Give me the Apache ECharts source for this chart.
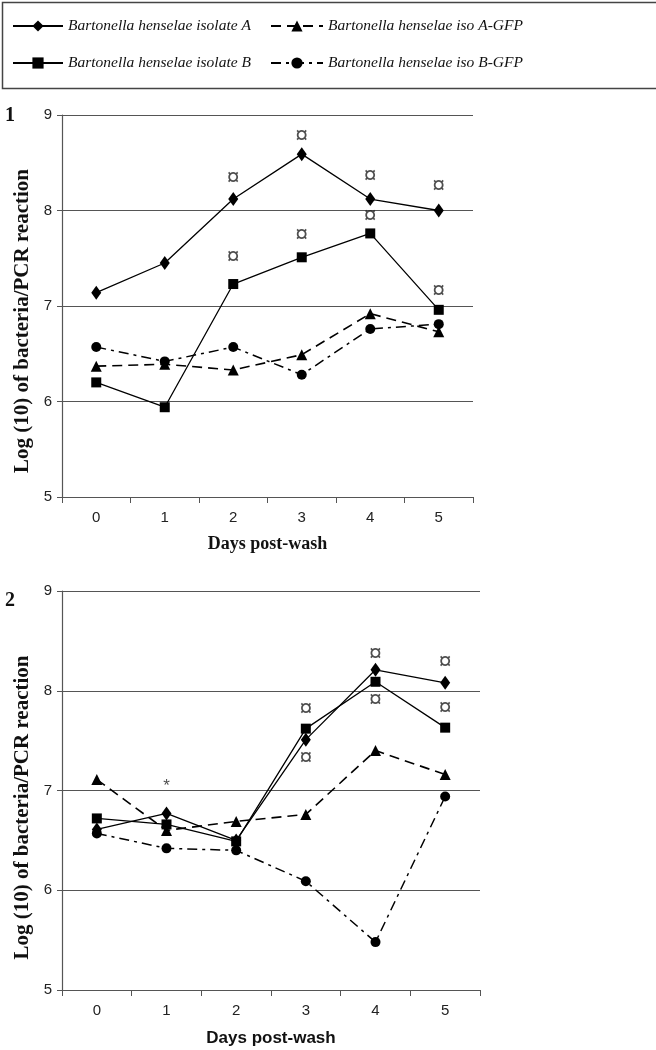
<!DOCTYPE html>
<html><head><meta charset="utf-8">
<script src="https://cdn.jsdelivr.net/npm/echarts@6/dist/echarts.min.js"></script>
<style>html,body{margin:0;padding:0;background:#fff}#c{width:656px;height:1050px}</style>
</head><body><div id="c"></div>
<script>
const days = ['0','1','2','3','4','5'];
const yTicks = [5, 6, 7, 8, 9];
const names = ['Bartonella henselae isolate A','Bartonella henselae isolate B','Bartonella henselae iso A-GFP','Bartonella henselae iso B-GFP'];

// Panel 1
const p1A    = [7.14, 7.45, 8.12, 8.59, 8.12, 8.00];
const p1B    = [6.20, 5.94, 7.23, 7.51, 7.76, 6.96];
const p1AGFP = [6.37, 6.39, 6.33, 6.49, 6.92, 6.73];
const p1BGFP = [6.57, 6.42, 6.57, 6.28, 6.76, 6.81];
const p1MarkA = [null, null, 8.33, 8.77, 8.35, 8.25];
const p1MarkB = [null, null, 7.51, 7.74, 7.94, 7.15];

// Panel 2
const p2A    = [6.61, 6.77, 6.50, 7.51, 8.21, 8.08];
const p2B    = [6.72, 6.66, 6.49, 7.62, 8.09, 7.63];
const p2AGFP = [7.11, 6.60, 6.69, 6.76, 7.40, 7.16];
const p2BGFP = [6.57, 6.42, 6.40, 6.09, 5.48, 6.94];
const p2MarkUp  = [null, null, null, 7.81, 8.36, 8.28];
const p2MarkLow = [null, null, null, 7.32, 7.90, 7.82];
const p2Star    = [null, 7.04, null, null, null, null];

const serif = 'Liberation Serif';
const sans = 'Liberation Sans';

const styles = [
  {symbol:'diamond', symbolSize:[10,14], lineStyle:{type:'solid', width:1.3}},
  {symbol:'rect', symbolSize:10, lineStyle:{type:'solid', width:1.3}},
  {symbol:'triangle', symbolSize:11, lineStyle:{type:[10,6], width:1.6}},
  {symbol:'circle', symbolSize:10, lineStyle:{type:[10,5,3,5], width:1.5}}
];

function lineSeries(idx, data, panel){
  const s = styles[idx];
  return {
    name: names[idx], type:'line', xAxisIndex:panel, yAxisIndex:panel, data:data,
    symbol:s.symbol, symbolSize:s.symbolSize, showSymbol:true,
    itemStyle:{color:'#000'}, lineStyle:Object.assign({color:'#000'}, s.lineStyle),
    emphasis:{disabled:true}, animation:false, z:3
  };
}
function markSeries(data, panel, txt, size){
  return {
    type:'scatter', xAxisIndex:panel, yAxisIndex:panel, data:data,
    symbol:'circle', symbolSize:2, itemStyle:{color:'rgba(0,0,0,0)'}, silent:true, animation:false, z:4,
    label:{show:true, position:'inside', formatter:txt, color:'#222', fontFamily:sans, fontSize:size}
  };
}

function xAxis(panel, nameFont, nameSize){
  return {
    type:'category', gridIndex:panel, data:days, boundaryGap:true,
    axisLine:{show:true, lineStyle:{color:'#555', width:1.2}},
    axisTick:{show:true, interval:0, length:6, lineStyle:{color:'#555'}},
    axisLabel:{margin:13, color:'#222', fontFamily:sans, fontSize:15},
    name:'Days post-wash', nameLocation:'middle', nameGap: panel===0 ? 38 : 40,
    nameTextStyle:{fontFamily:nameFont, fontWeight:'bold', fontSize:nameSize, color:'#111'}
  };
}
function yAxis(panel, shift){
  return {
    type:'value', gridIndex:panel, min:5, max:9, interval:1,
    axisLine:{show:true, lineStyle:{color:'#555', width:1.2}},
    axisTick:{show:true, length:5, lineStyle:{color:'#555'}},
    axisLabel:{margin:10, color:'#222', fontFamily:sans, fontSize:15,
      formatter:function(v){ return yTicks.indexOf(v) >= 0 ? String(v) : ''; }},
    splitLine:{show:true, lineStyle:{color:'#555', width:1.2}},
    name:'Log (10) of bacteria/PCR reaction', nameLocation:'middle', nameGap:23, nameRotate:90,
    nameTextStyle:{fontFamily:serif, fontWeight:'bold', fontSize:21, color:'#111', padding:[0, shift, 0, 0]}
  };
}

const legendText = {fontFamily:serif, fontStyle:'italic', fontSize:15.5, color:'#111'};

const option = {
  backgroundColor:'#fff',
  animation:false,
  graphic:[
    {type:'rect', left:0, top:0, shape:{x:0.5, y:0.5, width:655, height:86}, style:{fill:'none', stroke:'#444', lineWidth:1.5}, z:0},
    {type:'text', left:5, top:106, style:{text:'1', font:'bold 20px "Liberation Serif"', fill:'#111'}},
    {type:'text', left:5, top:591, style:{text:'2', font:'bold 20px "Liberation Serif"', fill:'#111'}}
  ],
  legend:[
    {left:7, top:13, orient:'vertical', itemWidth:50, itemHeight:14, itemGap:21, itemStyle:{color:'#000'},
     data:[names[0], names[1]], textStyle:legendText, selectedMode:false},
    {left:265, top:13, orient:'vertical', itemWidth:52, itemHeight:14, itemGap:21, itemStyle:{color:'#000'},
     data:[names[2], names[3]], textStyle:legendText, selectedMode:false}
  ],
  grid:[
    {left:62, top:115, width:411, height:382},
    {left:62, top:591, width:418, height:399}
  ],
  xAxis:[xAxis(0, serif, 18), xAxis(1, sans, 17)],
  yAxis:[yAxis(0, 30), yAxis(1, 34)],
  series:[
    lineSeries(0, p1A, 0), lineSeries(1, p1B, 0), lineSeries(2, p1AGFP, 0), lineSeries(3, p1BGFP, 0),
    lineSeries(0, p2A, 1), lineSeries(1, p2B, 1), lineSeries(2, p2AGFP, 1), lineSeries(3, p2BGFP, 1),
    markSeries(p1MarkA, 0, '¤', 23), markSeries(p1MarkB, 0, '¤', 23),
    markSeries(p2MarkUp, 1, '¤', 23), markSeries(p2MarkLow, 1, '¤', 23),
    markSeries(p2Star, 1, '*', 17)
  ]
};
const chart = echarts.init(document.getElementById('c'), null, {renderer:'canvas'});
chart.setOption(option);
</script></body></html>
